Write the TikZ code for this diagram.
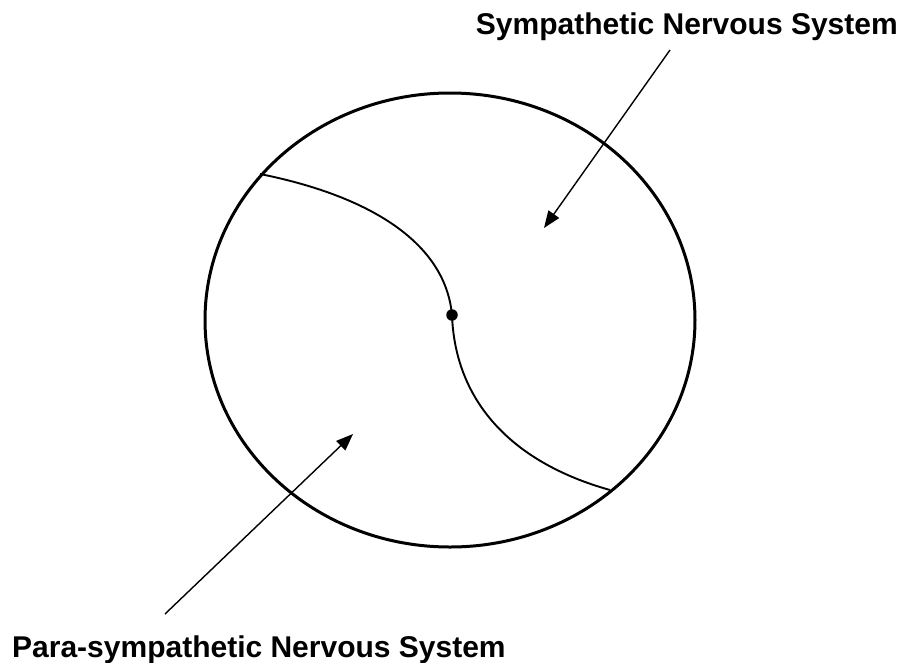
\documentclass[tikz,border=0pt]{standalone}
\usepackage{fontspec}
\setmainfont{Liberation Sans}
\usetikzlibrary{arrows.meta}
\tikzset{
  lbl/.style={font=\fontsize{30}{36}\selectfont\bfseries, inner sep=0pt},
  pointer/.style={line width=1.4pt, -{Triangle[length=17pt,width=13pt]}},
  divider/.style={line width=1.9pt},
  outline/.style={line width=3pt}
}
\begin{document}
\begin{tikzpicture}[x=1pt,y=-1pt]
\useasboundingbox (0,0) rectangle (903,662);
\draw[outline] (450,320) ellipse [x radius=245, y radius=227];
\node[circle, fill=black, inner sep=0pt, minimum size=11.5pt] (hub) at (452,315) {};
\coordinate (topend) at (260,174);
\coordinate (botend) at (610,490);
\draw[divider] (topend) .. controls (365,195) and (445,240) .. (hub.center);
\draw[divider] (hub.center) .. controls (455,400) and (510,462) .. (botend);
\node[lbl, anchor=base east] (symp) at (898,34) {Sympathetic Nervous System};
\node[lbl, anchor=base west] (para) at (12,657) {Para-sympathetic Nervous System};
\coordinate (s1) at (670,50);
\coordinate (s2) at (544,228);
\coordinate (p1) at (165,614);
\coordinate (p2) at (353,434);
\draw[pointer] (s1) -- (s2);
\draw[pointer] (p1) -- (p2);
\end{tikzpicture}
\end{document}
